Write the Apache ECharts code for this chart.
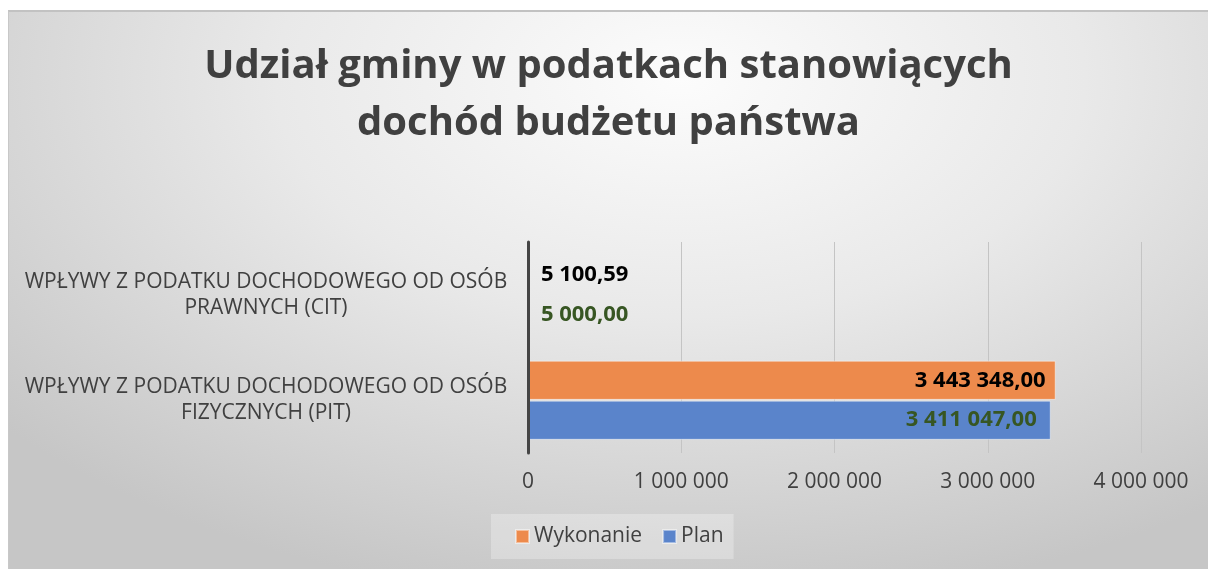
<!DOCTYPE html>
<html>
<head>
<meta charset="utf-8">
<script src="https://cdn.jsdelivr.net/npm/echarts@6/dist/echarts.min.js"></script>
<style>
  html, body { margin: 0; padding: 0; background: #ffffff; width: 1208px; height: 569px; overflow: hidden; }
  #chart {
    position: absolute; left: 8px; top: 10px; width: 1200px; height: 559px;
    box-sizing: border-box;
    border-top: 2px solid #c2c2c2; border-left: 1px solid #c8c8c8;
    background: radial-gradient(ellipse 75% 95% at 56% 12%, #fcfcfc 0%, #e9e9e9 45%, #c6c6c6 100%);
  }
</style>
</head>
<body>
<div id="chart"></div>
<script>
const titleText = 'Udział gminy w podatkach stanowiących\ndochód budżetu państwa';
const categories = [
  'WPŁYWY Z PODATKU DOCHODOWEGO OD OSÓB\nFIZYCZNYCH (PIT)',
  'WPŁYWY Z PODATKU DOCHODOWEGO OD OSÓB\nPRAWNYCH (CIT)'
];
const seriesNames = ['Wykonanie', 'Plan'];
const wykonanie = [3443348.00, 5100.59];
const plan = [3411047.00, 5000.00];
const xTicks = [0, 1000000, 2000000, 3000000, 4000000];

function groupThousands(intStr) {
  return intStr.replace(/\B(?=(\d{3})+(?!\d))/g, ' ');
}
function fmtValue(v) {
  const parts = v.toFixed(2).split('.');
  return groupThousands(parts[0]) + ',' + parts[1];
}
function fmtTick(v) {
  return groupThousands(String(Math.round(v)));
}

const FONT = 'Open Sans';
const GRAY = '#404040';

function buildData(values, insideDist) {
  return values.map(function (v) {
    const small = v < 200000;
    return {
      value: v,
      label: small ? { position: 'right', distance: 12 } : { position: 'insideRight', distance: insideDist }
    };
  });
}

const chart = echarts.init(document.getElementById('chart'), null, { renderer: 'canvas' });
chart.setOption({
  animation: false,
  backgroundColor: 'transparent',
  title: {
    text: titleText,
    left: 'center',
    top: 26,
    padding: [0, 0, 0, 14],
    textStyle: { fontFamily: FONT, fontWeight: 'bold', fontSize: 40, color: GRAY, lineHeight: 57 }
  },
  legend: {
    data: seriesNames,
    left: 482,
    top: 502,
    padding: [12, 10, 12, 24],
    backgroundColor: 'rgba(255,255,255,0.28)',
    icon: 'rect',
    itemWidth: 13,
    itemHeight: 13,
    itemGap: 20,
    textStyle: { fontFamily: FONT, fontSize: 21, color: GRAY, padding: [0, 0, 0, 0] }
  },
  grid: { left: 519, right: 67, top: 230, bottom: 116, containLabel: false },
  xAxis: {
    type: 'value',
    min: xTicks[0],
    max: xTicks[xTicks.length - 1],
    interval: xTicks[1] - xTicks[0],
    axisLine: { show: false },
    axisTick: { show: false },
    splitLine: { show: true, lineStyle: { color: '#c4c4c4', width: 1 } },
    axisLabel: {
      margin: 19,
      fontFamily: FONT, fontSize: 21, color: GRAY,
      formatter: fmtTick
    }
  },
  yAxis: {
    type: 'category',
    data: categories,
    z: 5,
    axisTick: { show: false },
    axisLine: { show: true, lineStyle: { color: '#454545', width: 3 } },
    axisLabel: {
      margin: 22,
      formatter: function (v) {
        return v.split('\n').map(function (s) { return '{c|' + s + '}'; }).join('\n');
      },
      rich: {
        c: { width: 480, align: 'center', fontFamily: FONT, fontSize: 21, lineHeight: 26, color: GRAY }
      }
    }
  },
  series: [
    {
      name: seriesNames[0],
      type: 'bar',
      data: buildData(wykonanie, 10),
      barGap: '2%',
      barCategoryGap: '25%',
      itemStyle: { color: '#ED8A4C', borderColor: 'rgba(255,255,255,0.45)', borderWidth: 1 },
      label: {
        show: true, fontFamily: FONT, fontWeight: 'bold', fontSize: 22, color: '#000000',
        formatter: function (p) { return fmtValue(p.value); }
      }
    },
    {
      name: seriesNames[1],
      type: 'bar',
      data: buildData(plan, 14),
      barGap: '2%',
      barCategoryGap: '25%',
      itemStyle: { color: '#5A84CB', borderColor: 'rgba(255,255,255,0.45)', borderWidth: 1 },
      label: {
        show: true, fontFamily: FONT, fontWeight: 'bold', fontSize: 22, color: '#375623',
        formatter: function (p) { return fmtValue(p.value); }
      }
    }
  ]
});
</script>
</body>
</html>
